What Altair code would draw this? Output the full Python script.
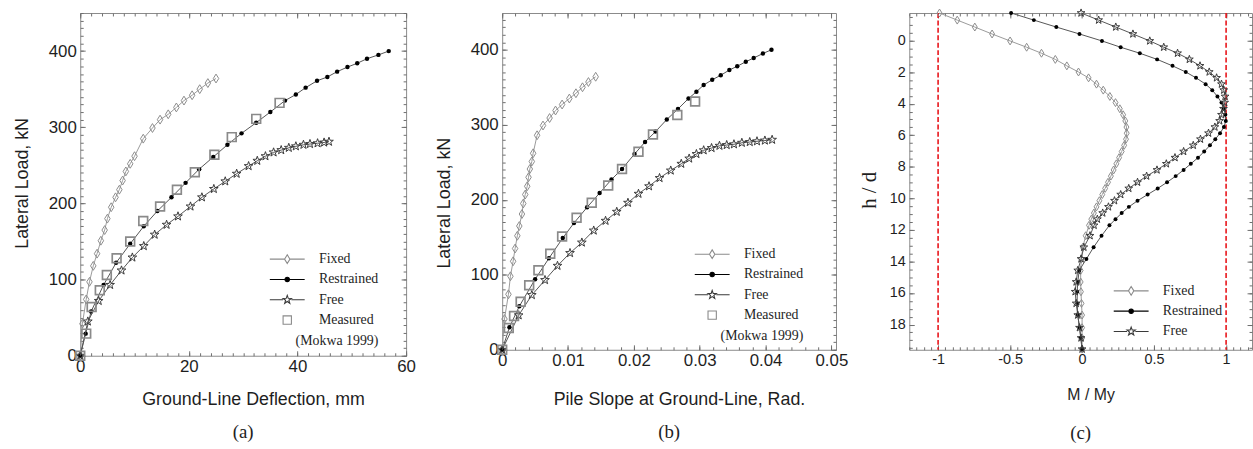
import altair as alt
import pandas as pd

# ---------------- data ----------------
# (a) Lateral load (kN) vs ground-line deflection (mm)
a_fixed_x = [0, 0.4, 1.1, 1.7, 2.4, 3.1, 3.8, 4.5, 5.0, 5.7, 6.5, 7.2, 7.8, 8.4, 9.2, 10.0, 11.6, 13.3, 14.7, 16.2, 17.7, 19.1, 20.6, 22.0, 23.5, 25.0]
a_fixed_y = [0, 42, 74, 97, 118, 134, 151, 165, 180, 195, 208, 218, 230, 242, 252, 262, 285, 299, 310, 317, 326, 335, 342, 350, 358, 364]
a_restr_x = [0, 1.0, 2.0, 4.3, 6.6, 9.2, 11.7, 14.2, 16.8, 19.4, 21.9, 24.5, 27.1, 29.7, 32.4, 35.0, 37.7, 39.7, 41.5, 43.6, 45.5, 47.3, 49.2, 51.0, 52.8, 54.9, 56.8]
a_restr_y = [0, 29, 58, 93, 122, 147, 170, 190, 208, 227, 245, 261, 277, 292, 306, 320, 335, 343, 352, 361, 366, 373, 379, 384, 390, 395, 400]
a_free_x = [0, 1.4, 3.4, 5.5, 7.6, 9.6, 11.7, 13.7, 15.9, 18.0, 20.3, 22.4, 24.6, 26.7, 28.8, 31.0, 32.6, 34.1, 35.6, 37.0, 38.4, 39.7, 41.1, 42.3, 43.7, 44.9, 45.8]
a_free_y = [0, 45, 72, 93, 112, 129, 144, 159, 172, 183, 196, 208, 219, 229, 239, 249, 256, 262, 267, 270, 273, 275, 277, 278, 279, 280, 281]
a_meas_x = [0, 1.1, 2.1, 3.6, 4.9, 6.7, 9.2, 11.6, 14.7, 17.8, 21.1, 24.7, 27.9, 32.4, 36.7]
a_meas_y = [0, 29, 64, 86, 106, 128, 150, 177, 196, 218, 241, 264, 287, 311, 332]

# (b) Lateral load (kN) vs pile slope at ground line (rad)
b_fixed_x = [0, 0.00035, 0.00095, 0.00125, 0.00166, 0.00196, 0.0023, 0.0026, 0.0030, 0.0032, 0.0035, 0.0038, 0.0040, 0.0042, 0.0045, 0.0047, 0.0053, 0.0062, 0.0072, 0.0081, 0.0091, 0.0102, 0.0112, 0.0122, 0.0131, 0.0142]
b_fixed_y = [0, 41, 74, 98, 118, 135, 152, 165, 181, 195, 207, 218, 230, 241, 251, 262, 286, 299, 309, 319, 327, 335, 342, 350, 357, 364]
b_restr_x = [0, 0.0011, 0.0026, 0.0050, 0.0071, 0.0092, 0.0109, 0.0129, 0.0148, 0.0166, 0.0182, 0.0201, 0.0217, 0.0233, 0.0250, 0.0267, 0.0283, 0.0295, 0.0306, 0.0319, 0.0332, 0.0345, 0.0357, 0.0370, 0.0382, 0.0396, 0.0409]
b_restr_y = [0, 30, 58, 94, 122, 149, 169, 190, 209, 227, 241, 261, 277, 291, 307, 321, 335, 344, 353, 360, 366, 373, 378, 384, 389, 395, 400]
b_free_x = [0, 0.0025, 0.0045, 0.0065, 0.0084, 0.0103, 0.0121, 0.0139, 0.0157, 0.0174, 0.0191, 0.0207, 0.0223, 0.0239, 0.0256, 0.0272, 0.0284, 0.0295, 0.0306, 0.0318, 0.0330, 0.0341, 0.0352, 0.0364, 0.0376, 0.0387, 0.0399, 0.0410]
b_free_y = [0, 46, 73, 93, 112, 129, 143, 159, 172, 184, 196, 208, 218, 229, 239, 248, 255, 261, 266, 269, 272, 273, 274, 276, 277, 278, 279, 280]
b_meas_x = [0, 0.0010, 0.0018, 0.0028, 0.0041, 0.0055, 0.0073, 0.0091, 0.0113, 0.0136, 0.0161, 0.0182, 0.0207, 0.0229, 0.0266, 0.0293]
b_meas_y = [0, 29, 45, 64, 86, 106, 128, 151, 176, 196, 219, 241, 264, 287, 313, 331]

# (c) depth h/d vs normalised moment M/My
c_depth = [-1.75, -1.30, -0.86, -0.42, 0.02, 0.42, 0.80, 1.19, 1.60, 1.99, 2.36, 2.76, 3.14, 3.54, 3.93, 4.32, 4.70,
           5.09, 5.48, 5.87, 6.25, 6.64, 7.03, 7.42, 7.81, 8.20, 8.59, 8.98, 9.37, 9.76, 10.15, 10.54, 10.93, 11.32,
           11.71, 12.37, 13.10, 13.84, 14.57, 15.30, 15.92, 16.66, 17.40, 18.20, 18.85, 19.56]
c_fixed_m = [-0.99, -0.867, -0.745, -0.625, -0.50, -0.385, -0.282, -0.186, -0.106, -0.025, 0.045, 0.100, 0.147, 0.193, 0.232, 0.262, 0.285,
             0.300, 0.308, 0.310, 0.305, 0.292, 0.275, 0.257, 0.238, 0.219, 0.200, 0.180, 0.160, 0.140, 0.120, 0.100, 0.082, 0.064,
             0.048, 0.025, 0.005, -0.005, -0.010, -0.010, -0.008, -0.004, 0.0, 0.0, 0.0, 0.0]
c_restr_m = [-0.493, -0.335, -0.179, -0.018, 0.138, 0.268, 0.401, 0.521, 0.628, 0.720, 0.791, 0.858, 0.904, 0.940, 0.968, 0.984, 0.995,
             0.998, 0.985, 0.958, 0.925, 0.888, 0.848, 0.805, 0.755, 0.705, 0.650, 0.590, 0.525, 0.455, 0.385, 0.325, 0.275, 0.232,
             0.190, 0.135, 0.080, 0.030, -0.020, -0.030, -0.034, -0.034, -0.030, -0.018, -0.010, 0.0]
c_free_m = [-0.007, 0.115, 0.234, 0.353, 0.470, 0.567, 0.663, 0.745, 0.819, 0.883, 0.934, 0.968, 0.984, 0.993, 0.990, 0.982, 0.968,
            0.955, 0.922, 0.878, 0.822, 0.772, 0.705, 0.645, 0.585, 0.520, 0.448, 0.385, 0.324, 0.268, 0.225, 0.183, 0.143, 0.106,
            0.083, 0.055, 0.012, -0.007, -0.030, -0.041, -0.048, -0.041, -0.030, -0.018, -0.007, 0.0]
c_yield = [-1, 1]

series_names = ["Fixed", "Restrained", "Free", "Measured"]
legend_note = "(Mokwa 1999)"

a_x_ticks = [0, 20, 40, 60]
load_ticks = [0, 100, 200, 300, 400]
b_x_ticks = [0, 0.01, 0.02, 0.03, 0.04, 0.05]
c_x_ticks = [-1, -0.5, 0, 0.5, 1]
c_y_ticks = [0, 2, 4, 6, 8, 10, 12, 14, 16, 18]

# ---------------- styling ----------------
SANS = "Liberation Sans"
SERIF = "Liberation Serif"
TXT = "#1e1e1e"
TICK = "#6e6e6e"

STAR = "M0,-1L0.235,-0.324L0.951,-0.309L0.38,0.124L0.588,0.809L0,0.4L-0.588,0.809L-0.38,0.124L-0.951,-0.309L-0.235,-0.324Z"
DIAMOND = "M0,-1L0.62,0L0,1L-0.62,0Z"

# legend symbols (unit = 4 px): line with marker
LEG_FIXED = "M-4.4,0H-0.68M0.68,0H4.4M0,-1.1L0.68,0L0,1.1L-0.68,0Z"
LEG_RESTR = "M-4.4,0H4.4M0.55,0A0.55,0.55 0 1,1 -0.55,0A0.55,0.55 0 1,1 0.55,0Z"
LEG_FREE = ("M-4.4,0H-1.05M1.05,0H4.4M0,-1.1L0.26,-0.36L1.05,-0.34L0.42,0.14L0.65,0.89L0,0.44L-0.65,0.89"
            "L-0.42,0.14L-1.05,-0.34L-0.26,-0.36Z")
LEG_MEAS = "M-1.05,-1.05H1.05V1.05H-1.05Z"

COL = {"Fixed": "#8c8c8c", "Restrained": "#000000", "Free": "#3a3a3a", "Measured": "#8a8a8a"}
LINE = {"Fixed": "#9a9a9a", "Restrained": "#555555", "Free": "#555555"}


def steps(lo, hi, step):
    n = int(round((hi - lo) / step))
    return [round(lo + k * step, 6) for k in range(n + 1)]


def frame(xs, ys):
    return pd.DataFrame({"x": xs, "y": ys, "i": list(range(len(xs)))})


def series_layers(name, xs, ys, xscale, yscale, small=False):
    df = frame(xs, ys)
    X = alt.X("x:Q", scale=xscale, axis=None)
    Y = alt.Y("y:Q", scale=yscale, axis=None)
    out = []
    if name != "Measured":
        out.append(alt.Chart(df).mark_line(color=LINE[name], strokeWidth=1).encode(x=X, y=Y, order="i:Q"))
    k = 0.8 if small else 1.0
    if name == "Fixed":
        m = alt.Chart(df).mark_point(shape=DIAMOND, size=80 * k, filled=False, color=COL[name], strokeWidth=1, opacity=1)
    elif name == "Restrained":
        m = alt.Chart(df).mark_point(shape="circle", size=20 * k, filled=True, color=COL[name], opacity=1)
    elif name == "Free":
        m = alt.Chart(df).mark_point(shape=STAR, size=85 * k, filled=False, color=COL[name], strokeWidth=1, opacity=1)
    else:
        m = alt.Chart(df).mark_point(shape="square", size=78, filled=False, color=COL[name], strokeWidth=1.7, opacity=1)
    out.append(m.encode(x=X, y=Y))
    return out


def empty():
    return pd.DataFrame({"x": pd.Series([], dtype=float), "y": pd.Series([], dtype=float)})


def tick_axis(orient, values, size):
    return alt.Axis(orient=orient, values=values, labels=False, ticks=True, tickSize=size, tickColor=TICK,
                    tickWidth=1, offset=-size, domain=False, grid=False, title=None)


def axis_layers(xscale, yscale, xmaj, xmin, ymaj, ymin, lab_fs, xtitle, ytitle, xt_font, xt_fs, yt_font, yt_fs,
                xt_pad, yt_pad, xt_x, yt_y):
    X = lambda ax: alt.X("x:Q", scale=xscale, axis=ax)
    Y = lambda ax: alt.Y("y:Q", scale=yscale, axis=ax)
    main_x = alt.Axis(orient="bottom", values=xmaj, labelExpr="datum.value + ''", labelFont=SANS,
                      labelFontSize=lab_fs, labelColor=TXT, labelPadding=3, labelFlush=False, labelOverlap=False,
                      tickSize=5, tickColor=TICK, tickWidth=1, offset=-5, domain=False, grid=False,
                      title=xtitle, titleFont=xt_font, titleFontSize=xt_fs, titleFontWeight="normal",
                      titleColor=TXT, titlePadding=xt_pad, titleX=xt_x)
    main_y = alt.Axis(orient="left", values=ymaj, labelExpr="datum.value + ''", labelFont=SANS,
                      labelFontSize=lab_fs, labelColor=TXT, labelPadding=4, labelFlush=False, labelOverlap=False,
                      tickSize=5, tickColor=TICK, tickWidth=1, offset=-5, domain=False, grid=False,
                      title=ytitle, titleFont=yt_font, titleFontSize=yt_fs, titleFontWeight="normal",
                      titleColor=TXT, titlePadding=yt_pad, titleY=yt_y)
    base = alt.Chart(empty()).mark_point(opacity=0)
    return [
        base.encode(x=X(main_x), y=Y(main_y)),
        base.encode(x=X(tick_axis("top", xmaj, 5)), y=Y(tick_axis("right", ymaj, 5))),
        base.encode(x=X(tick_axis("bottom", xmin, 3)), y=Y(tick_axis("left", ymin, 3))),
        base.encode(x=X(tick_axis("top", xmin, 3)), y=Y(tick_axis("right", ymin, 3))),
    ]


def legend_layer(names, lx, ly, title):
    paths = {"Fixed": LEG_FIXED, "Restrained": LEG_RESTR, "Free": LEG_FREE, "Measured": LEG_MEAS}
    fills = {"Fixed": "transparent", "Restrained": "#000000", "Free": "transparent", "Measured": "transparent"}
    kw = dict(orient="none", legendX=lx, legendY=ly, labelFont=SERIF, labelFontSize=14, labelColor=TXT,
              symbolSize=64, symbolStrokeWidth=1.1, symbolOffset=18, labelOffset=25, rowPadding=6.5, padding=0)
    if title:
        kw.update(title=title, titleOrient="bottom", titleAnchor="end", titleFont=SERIF, titleFontSize=14,
                  titleFontWeight="normal", titleColor=TXT, titlePadding=7)
    else:
        kw.update(title=None)
    leg = alt.Legend(**kw)
    return alt.Chart(pd.DataFrame({"series": names})).transform_filter("false").mark_point(opacity=1).encode(
        shape=alt.Shape("series:N", scale=alt.Scale(domain=names, range=[paths[n] for n in names]), legend=leg),
        fill=alt.Fill("series:N", scale=alt.Scale(domain=names, range=[fills[n] for n in names]), legend=leg),
        stroke=alt.Stroke("series:N", scale=alt.Scale(domain=names, range=[COL[n] for n in names]), legend=leg),
    )


def panel_title(t, off):
    return alt.TitleParams(text=t, orient="bottom", font=SERIF, fontSize=19, fontWeight="normal", color=TXT,
                           offset=off, anchor="middle", frame="group")


# ---------------- panel (a) ----------------
WA, HA = 329, 346
xs_a = alt.Scale(domain=[0, 60], nice=False, zero=False)
ys_a = alt.Scale(domain=[0, 450], nice=False, zero=False)
la = []
for nm, xs, ys in [("Fixed", a_fixed_x, a_fixed_y), ("Restrained", a_restr_x, a_restr_y),
                   ("Free", a_free_x, a_free_y), ("Measured", a_meas_x, a_meas_y)]:
    la += series_layers(nm, xs, ys, xs_a, ys_a)
la += axis_layers(xs_a, ys_a, a_x_ticks, steps(0, 60, 2), load_ticks, steps(0, 450, 10), 17,
                  "Ground-Line Deflection, mm", "Lateral Load, kN", SANS, 18, SANS, 18, 16.5, 17, WA / 2 + 10, 171.5)
la.append(legend_layer(series_names, 184, 241.5, legend_note))
pa = alt.layer(*la).resolve_axis(x="independent", y="independent").properties(
    width=WA, height=HA, title=panel_title("(a)", 15))

# ---------------- panel (b) ----------------
WB, HB = 337, 340
xs_b = alt.Scale(domain=[0, 0.0507], nice=False, zero=False)
ys_b = alt.Scale(domain=[0, 449], nice=False, zero=False)
lb = []
for nm, xs, ys in [("Fixed", b_fixed_x, b_fixed_y), ("Restrained", b_restr_x, b_restr_y),
                   ("Free", b_free_x, b_free_y), ("Measured", b_meas_x, b_meas_y)]:
    lb += series_layers(nm, xs, ys, xs_b, ys_b)
lb += axis_layers(xs_b, ys_b, b_x_ticks, steps(0, 0.05, 0.002), load_ticks, steps(0, 440, 10), 17,
                  "Pile Slope at Ground-Line, Rad.", "Lateral Load, kN", SANS, 18, SANS, 18, 22.5, 17, WB / 2 + 10, 191.5)
lb.append(legend_layer(series_names, 187, 236.5, legend_note))
pb = alt.layer(*lb).resolve_axis(x="independent", y="independent").properties(
    width=WB, height=HB, title=panel_title("(b)", 15))

# ---------------- panel (c) ----------------
WC, HC = 346, 340
xs_c = alt.Scale(domain=[-1.2, 1.18], nice=False, zero=False)
ys_c = alt.Scale(domain=[-1.75, 19.6], nice=False, zero=False, reverse=True)
lc = [alt.Chart(pd.DataFrame({"m": c_yield})).mark_rule(color="#e8141a", strokeDash=[5, 2.5], strokeWidth=1.6)
      .encode(x=alt.X("m:Q", scale=xs_c, axis=None))]
for nm, ms in [("Fixed", c_fixed_m), ("Restrained", c_restr_m), ("Free", c_free_m)]:
    lc += series_layers(nm, ms, c_depth, xs_c, ys_c, small=True)
lc += axis_layers(xs_c, ys_c, c_x_ticks, steps(-1.2, 1.15, 0.05), c_y_ticks, steps(-1.5, 19.5, 0.5), 14.5,
                  "M / My", "h / d", SANS, 16, SERIF, 21, 20.5, 10, WC / 2 + 10, 178.5)
lc.append(legend_layer(series_names[:3], 199, 273.5, None))
pc = alt.layer(*lc).resolve_axis(x="independent", y="independent").properties(
    width=WC, height=HC, title=panel_title("(c)", 22))

indep = dict(shape="independent", fill="independent", stroke="independent")
left_pair = alt.hconcat(pa, pb, spacing=19).resolve_scale(**indep)
chart = (
    alt.hconcat(left_pair, pc, spacing=9)
    .resolve_scale(**indep)
    .configure_view(stroke="#8a8a8a", strokeWidth=1)
    .properties(padding={"left": 13, "top": 4, "right": 0, "bottom": 0}, background="white")
)

chart.save("out.html", embed_options={"renderer": "svg", "actions": False})
